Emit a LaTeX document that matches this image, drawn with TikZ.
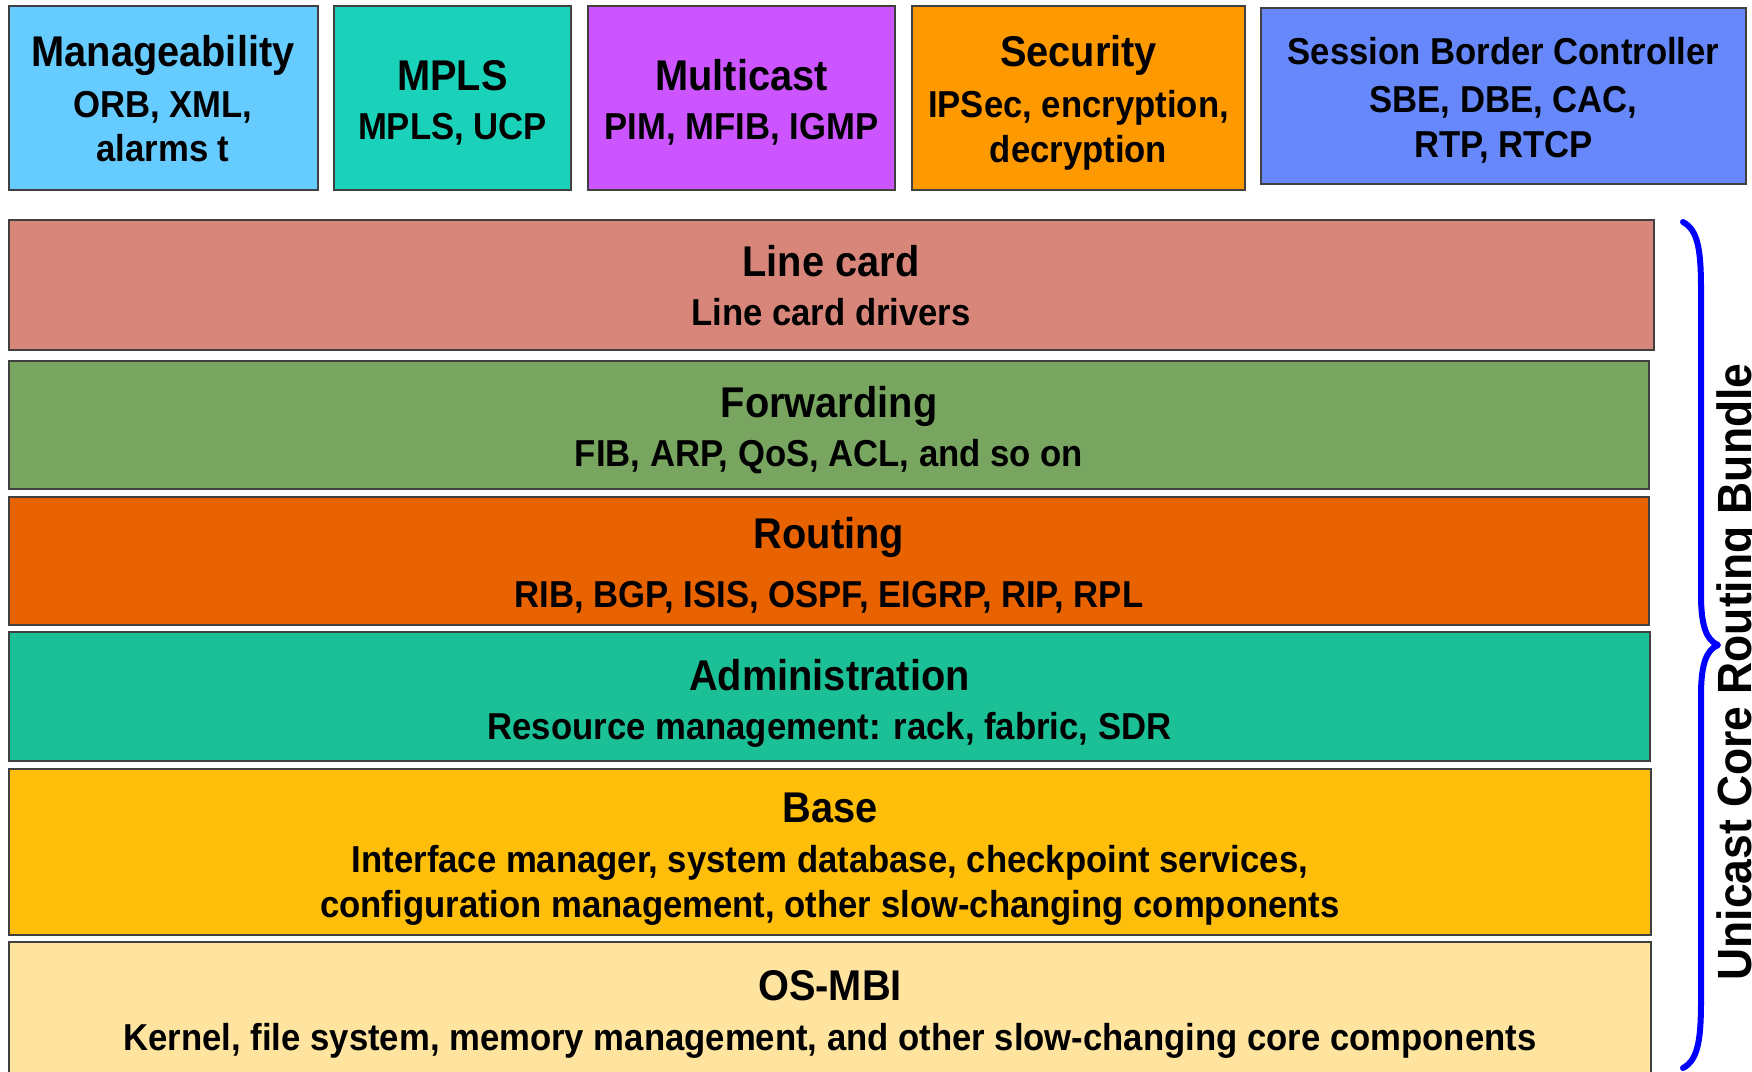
\documentclass[tikz,border=0pt]{standalone}
\usepackage{fontspec}
\newfontfamily\lbl{Liberation Sans}[FakeStretch=0.925]
\definecolor{cMan}{RGB}{102,204,255}
\definecolor{cMpls}{RGB}{26,210,185}
\definecolor{cMul}{RGB}{204,85,255}
\definecolor{cSec}{RGB}{255,153,0}
\definecolor{cSbc}{RGB}{102,136,250}
\definecolor{cLc}{RGB}{217,134,122}
\definecolor{cFw}{RGB}{120,166,96}
\definecolor{cRt}{RGB}{232,98,0}
\definecolor{cAd}{RGB}{27,192,150}
\definecolor{cBa}{RGB}{255,190,9}
\definecolor{cOs}{RGB}{255,228,160}
\definecolor{cBord}{RGB}{64,64,64}
\begin{document}
\begin{tikzpicture}[x=1pt,y=-1pt,
  box/.style={draw=cBord, line width=2.2pt, anchor=north west, inner sep=0pt, outer sep=0pt},
  ttl/.style={font=\lbl\bfseries\fontsize{43}{48}\selectfont, inner sep=0pt, text height=0.716em, text depth=0pt, yshift=-10.5pt},
  sub/.style={font=\lbl\bfseries\fontsize{37.5}{42}\selectfont, inner sep=0pt, text height=0.716em, text depth=0pt, yshift=-10.5pt},
  brace/.style={draw=blue, line width=6pt, line cap=round, line join=round}]
\useasboundingbox (0,0) rectangle (1752,1071);
\begin{scope}
\clip (0,0) rectangle (1752,1071);
% top boxes
\node[box, fill=cMan, minimum width=309pt, minimum height=184pt] (man) at (9,6) {};
\node[box, fill=cMpls, minimum width=237pt, minimum height=184pt] (mpls) at (334,6) {};
\node[box, fill=cMul, minimum width=307pt, minimum height=184pt] (mul) at (588,6) {};
\node[box, fill=cSec, minimum width=333pt, minimum height=184pt] (sec) at (912,6) {};
\node[box, fill=cSbc, minimum width=485pt, minimum height=176pt] (sbc) at (1261,8) {};
% layers
\node[box, fill=cLc, minimum width=1645pt, minimum height=130pt] (lc) at (9,220) {};
\node[box, fill=cFw, minimum width=1640pt, minimum height=128pt] (fw) at (9,361) {};
\node[box, fill=cRt, minimum width=1640pt, minimum height=128pt] (rt) at (9,497) {};
\node[box, fill=cAd, minimum width=1641pt, minimum height=129pt] (ad) at (9,632) {};
\node[box, fill=cBa, minimum width=1642pt, minimum height=166pt] (ba) at (9,769) {};
\node[box, fill=cOs, minimum width=1642pt, minimum height=150pt] (os) at (9,942) {};
\end{scope}
% top box texts
\node[ttl] (man1) at (163,52.5) {Manageability};
\node[sub] (man2) at (163,103) {ORB, XML,};
\node[sub] (man3) at (163,147.5) {alarms t};
\node[ttl] (mpls1) at (452.5,76) {MPLS};
\node[sub] (mpls2) at (452.5,125) {MPLS, UCP};
\node[ttl] (mul1) at (741.5,76) {Multicast};
\node[sub] (mul2) at (741.5,125) {PIM, MFIB, IGMP};
\node[ttl] (sec1) at (1078.5,52.5) {Security};
\node[sub] (sec2) at (1078.5,103) {IPSec, encryption,};
\node[sub] (sec3) at (1078.5,148.5) {decryption};
\node[sub] (sbc1) at (1503.5,50) {Session Border Controller};
\node[sub] (sbc2) at (1503.5,98) {SBE, DBE, CAC,};
\node[sub] (sbc3) at (1503.5,143) {RTP, RTCP};
% layer texts
\node[ttl] (lc1) at (831,262.5) {Line card};
\node[sub] (lc2) at (831,311.5) {Line card drivers};
\node[ttl] (fw1) at (829,403) {Forwarding};
\node[sub] (fw2) at (829,452.5) {FIB, ARP, QoS, ACL, and so on};
\node[ttl] (rt1) at (829,534) {Routing};
\node[sub] (rt2) at (829,593) {RIB, BGP, ISIS, OSPF, EIGRP, RIP, RPL};
\node[ttl] (ad1) at (829.5,676) {Administration};
\node[sub] (ad2) at (829.5,725) {Resource management: rack, fabric, SDR};
\node[ttl] (ba1) at (830,808) {Base};
\node[sub] (ba2) at (830,858) {Interface manager, system database, checkpoint services,};
\node[sub] (ba3) at (830,903) {configuration management, other slow-changing components};
\node[ttl] (os1) at (830,986.5) {OS-MBI};
\node[sub] (os2) at (830,1036) {Kernel, file system, memory management, and other slow-changing core components};
% brace
\coordinate (bt) at (1683,222);
\coordinate (btip) at (1718,645);
\coordinate (bb) at (1683,1068);
\draw[brace] (bt) .. controls (1698,230) and (1701,250) .. (1701,290) -- (1701,595)
  .. controls (1701,625) and (1706,640) .. (btip)
  .. controls (1706,650) and (1701,665) .. (1701,695) -- (1701,1000)
  .. controls (1701,1040) and (1698,1060) .. (bb);
\node[font=\lbl\bfseries\fontsize{48}{52}\selectfont, inner sep=0pt, rotate=90, anchor=base] (bundle) at (1751,672) {Unicast Core Routing Bundle};
\end{tikzpicture}
\end{document}
